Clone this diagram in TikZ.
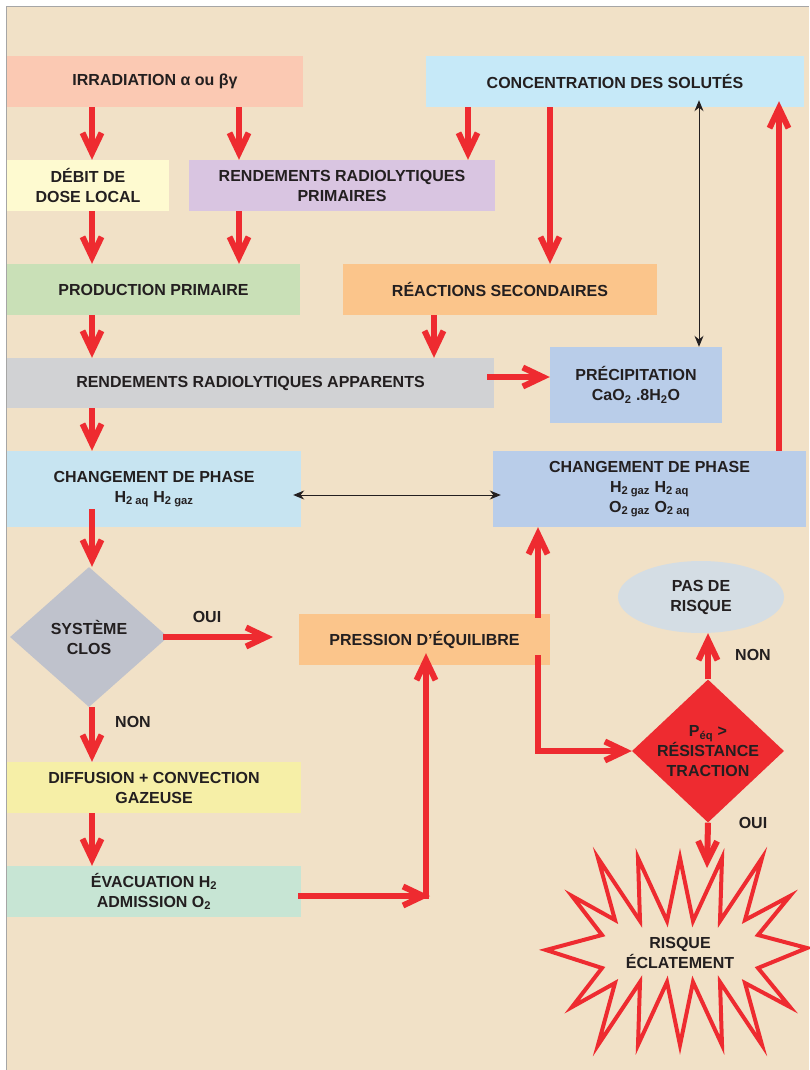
\documentclass[tikz,border=0pt]{standalone}
\usepackage{fontspec}
\setmainfont{Liberation Sans}
\usetikzlibrary{arrows.meta,shapes.geometric}

\definecolor{fond}{HTML}{F1E1C7}
\definecolor{encre}{HTML}{231F20}
\definecolor{rouge}{HTML}{EE2B30}
\definecolor{cRose}{HTML}{FBC9B3}
\definecolor{cCreme}{HTML}{FEFAD0}
\definecolor{cMauve}{HTML}{D9C5E1}
\definecolor{cCiel}{HTML}{C6E9F8}
\definecolor{cVert}{HTML}{C9E0B7}
\definecolor{cOrange}{HTML}{FBC58B}
\definecolor{cGris}{HTML}{D1D2D4}
\definecolor{cBleu}{HTML}{B9CDE9}
\definecolor{cAzur}{HTML}{C7E4F1}
\definecolor{cArdoise}{HTML}{BFC2CC}
\definecolor{cBrume}{HTML}{D4DDE4}
\definecolor{cJaune}{HTML}{F6EFA7}
\definecolor{cMenthe}{HTML}{C7E5D4}

\tikzset{
  bloc/.style={rectangle, minimum height=51pt},
  losange/.style={diamond, minimum width=158pt, minimum height=140pt},
  fleche/.style={draw=rouge, line width=6pt, -{Straight Barb[sharp,length=20pt,width=19pt]}},
  liaison/.style={draw=encre, line width=1pt, {Stealth[length=11pt,width=9pt]}-{Stealth[length=11pt,width=9pt]}},
  eclat/.style={draw=rouge, line width=4pt, fill=fond, line join=miter}
}

\begin{document}
\begin{tikzpicture}[x=1pt,y=-1pt,
  every node/.style={font=\fontsize{16}{20}\selectfont\bfseries, text=encre, align=center, inner sep=0pt}]
  \useasboundingbox (0,0) rectangle (809,1070);
  \fill[white] (0,0) rectangle (809,1070);
  \fill[fond] (6,7) rectangle (809,1070);
  \draw[gray!70, line width=1pt] (6,1070) -- (6,7) -- (809,7);

  % boites
  \node[bloc, fill=cRose, minimum width=296pt] (irr) at (155,81.5) {IRRADIATION α ou βγ};
  \node[bloc, fill=cCreme, minimum width=162pt] (debit) at (88,185.5) {DÉBIT DE\\DOSE LOCAL};
  \node[bloc, fill=cMauve, minimum width=306pt] (rrp) at (342,185.5) {RENDEMENTS RADIOLYTIQUES\\PRIMAIRES};
  \node[bloc, fill=cCiel, minimum width=378pt] (conc) at (615,81.5) {CONCENTRATION DES SOLUTÉS};
  \node[bloc, fill=cVert, minimum width=293pt] (prod) at (153.5,289.5) {PRODUCTION PRIMAIRE};
  \node[bloc, fill=cOrange, minimum width=314pt] (reac) at (500,289.5) {RÉACTIONS SECONDAIRES};
  \node[bloc, fill=cGris, minimum width=487pt, minimum height=50pt] (app) at (250.5,383) {RENDEMENTS RADIOLYTIQUES APPARENTS};
  \node[bloc, fill=cBleu, minimum width=172pt, minimum height=76pt] (precip) at (636,385) {PRÉCIPITATION\\CaO\textsubscript{2} .8H\textsubscript{2}O};
  \node[bloc, fill=cAzur, minimum width=294pt, minimum height=76pt] (chgL) at (154,489) {CHANGEMENT DE PHASE\\H\textsubscript{2 aq} H\textsubscript{2 gaz}};
  \node[bloc, fill=cBleu, minimum width=313pt, minimum height=76pt] (chgR) at (649.5,489) {CHANGEMENT DE PHASE\\H\textsubscript{2 gaz} H\textsubscript{2 aq}\\O\textsubscript{2 gaz} O\textsubscript{2 aq}};
  \node[losange, fill=cArdoise] (clos) at (89,637) {SYSTÈME\\CLOS};
  \node[bloc, fill=cOrange, minimum width=251pt] (pres) at (424.5,639.5) {PRESSION D’ÉQUILIBRE};
  \node[ellipse, fill=cBrume, minimum width=166pt, minimum height=72pt] (safe) at (701,597) {PAS DE\\RISQUE};
  \node[losange, fill=rouge, minimum width=152pt, minimum height=143pt,
        label={[align=center]center:{P\textsubscript{éq} >\\RÉSISTANCE\\TRACTION}}] (test) at (708,751) {};
  \node[bloc, fill=cJaune, minimum width=294pt] (diff) at (154,787.5) {DIFFUSION + CONVECTION\\GAZEUSE};
  \node[bloc, fill=cMenthe, minimum width=294pt] (evac) at (154,891.5) {ÉVACUATION H\textsubscript{2}\\ADMISSION O\textsubscript{2}};

  % eclatement
  \draw[eclat] (546,950) \foreach \p in {(602,935),(572,896),(615,920),(598,858),(640,921),(638,858),(667,921),(680,858),(693,921),(722,858),(720,921),(762,858),(745,920),(790,896),(758,935),(807,948),(758,968),(790,1007),(745,983),(762,1045),(720,982),(722,1045),(693,982),(680,1045),(667,982),(638,1045),(640,982),(598,1045),(615,983),(572,1007),(602,968)} { -- \p } -- cycle;
  \node (burst) at (680,953) {RISQUE\\ÉCLATEMENT};

  % voies des fleches
  \coordinate (xa) at (92,0);
  \coordinate (xb) at (239,0);
  \coordinate (xc) at (468,0);
  \coordinate (xd) at (550,0);
  \coordinate (xe) at (434,0);
  \coordinate (xf) at (699,0);
  \coordinate (xg) at (779,0);
  \coordinate (xi) at (538,0);
  \coordinate (vpres) at (273,637);
  \coordinate (coude) at (430,896);
  \coordinate (monte) at (426,899);
  \coordinate (boom) at (707,868);

  \draw[fleche] (irr.south -| xa) -- (debit.north -| xa);
  \draw[fleche] (irr.south -| xb) -- (rrp.north -| xb);
  \draw[fleche] (conc.south -| xc) -- (rrp.north -| xc);
  \draw[fleche] (debit.south -| xa) -- (prod.north -| xa);
  \draw[fleche] (rrp.south -| xb) -- (prod.north -| xb);
  \draw[fleche] (conc.south -| xd) -- (reac.north -| xd);
  \draw[liaison] ([yshift=7pt]conc.south -| xf) -- (precip.north -| xf);
  \draw[fleche] (chgR.north -| xg) -- ([yshift=6pt]conc.south -| xg);
  \draw[fleche] (prod.south -| xa) -- (app.north -| xa);
  \draw[fleche] (reac.south -| xe) -- (app.north -| xe);
  \draw[fleche] ([xshift=-7pt,yshift=6pt]app.east) -- ([yshift=8pt]precip.west);
  \draw[fleche] (app.south -| xa) -- (chgL.north -| xa);
  \draw[liaison, shorten <=-8pt, shorten >=-8pt] ([yshift=-6pt]chgL.east) -- ([yshift=-6pt]chgR.west);
  \draw[fleche] ([yshift=18pt]chgL.south -| xa) -- (clos.north -| xa);
  \draw[fleche] ([xshift=-5pt]clos.east) -- (vpres);
  \node at (207,617) {OUI};
  \draw[fleche] (clos.south -| xa) -- (diff.north -| xa);
  \node at (133,722) {NON};
  \draw[fleche] (diff.south -| xa) -- (evac.north -| xa);
  \draw[fleche] ([xshift=-3pt]evac.east |- coude) -- (coude);
  \draw[fleche] (monte) -- ([yshift=12pt]monte |- pres.south);
  \draw[fleche] ([yshift=-4pt]pres.north -| xi) -- (chgR.south -| xi);
  \draw[fleche] ([yshift=10pt]pres.south -| xi) |- (test.west);
  \draw[fleche] (test.north) -- (test.north |- safe.south);
  \node at (753,655) {NON};
  \draw[fleche] (test.south) -- (boom);
  \node at (753,823) {OUI};
\end{tikzpicture}
\end{document}
